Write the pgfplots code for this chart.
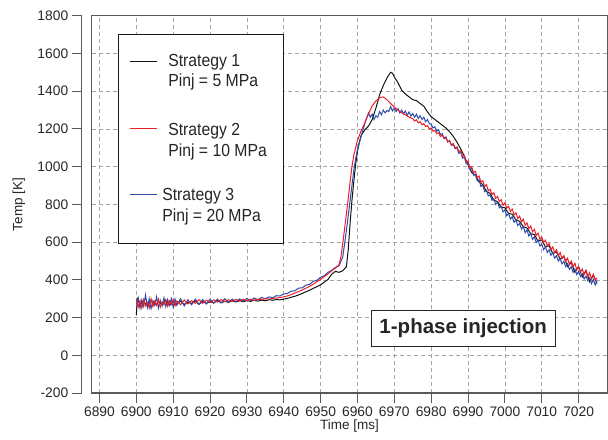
\documentclass[border=0pt]{standalone}
\usepackage{fontspec}
\setmainfont{Liberation Sans}
\newfontfamily\legfont[FakeStretch=0.9]{Liberation Sans}
\usepackage{pgfplots}
\pgfplotsset{compat=1.18}

\definecolor{sOne}{RGB}{20,20,20}
\definecolor{sTwo}{RGB}{235,30,40}
\definecolor{sThree}{RGB}{45,75,170}
\definecolor{framec}{RGB}{90,90,90}
\definecolor{gridc}{RGB}{165,165,165}

% legend sample line, lowered by #2 to sit beside the first text line
\pgfplotsset{legline/.style 2 args={legend image code/.code={\draw[#1, line width=1.1pt] (0pt,-#2) -- (27pt,-#2);}}}

\begin{document}
\begin{tikzpicture}
\begin{axis}[
  name=ax,
  scale only axis,
  width=515.5pt, height=377.3pt,
  xmin=6887.9, xmax=7027.8,
  ymin=-200, ymax=1800,
  xtick={6890,6900,...,7020},
  ytick={-200,0,...,1800},
  /pgf/number format/1000 sep={},
  /pgf/number format/assume math mode=true,
  tick label style={font=\fontsize{13.8}{16}\selectfont, text=black!85},
  xtick pos=bottom, ytick pos=left,
  tick align=outside,
  major tick length=10pt,
  tick style={framec, line width=0.9pt},
  ytick style={xshift=-10pt},
  yticklabel style={xshift=-10pt},
  axis line style={framec, line width=1.3pt},
  grid=major,
  grid style={gridc, dash pattern=on 4pt off 3pt, line width=0.7pt},
  every axis x label/.style={at={(rel axis cs:0.5,0)}, anchor=center, yshift=-32.5pt},
  every axis y label/.style={at={(rel axis cs:0,0.5)}, anchor=center, xshift=-72.7pt, rotate=90},
  label style={font=\fontsize{13.5}{16}\selectfont, text=black!85},
  xlabel={Time [ms]},
  ylabel={Temp [K]},
  legend cell align=left,
  legend style={at={(rel axis cs:0,1)}, anchor=north west, xshift=26.6pt, yshift=-18.3pt,
    draw=black!90, line width=0.8pt, fill=white,
    font=\legfont\fontsize{17.5}{21.7}\selectfont, text=black!85,
    inner xsep=10.5pt, inner ysep=18pt,
    /tikz/every odd column/.append style={column sep=9pt}},
]
\addplot[sOne, line width=1pt, forget plot] table {
6900 215
6900.3 300
6901 270
6902 285
6903 262
6904 290
6905 268
6906 282
6907 270
6908 292
6909 265
6910 284
6911 272
6912 288
6913 270
6914 283
6915 275
6916 289
6917 271
6918 285
6919 276
6920 284
6921 278
6922 290
6923 279
6924 287
6925 281
6926 289
6927 283
6928 290
6929 284
6930 290
6931 286
6932 292
6933 287
6934 293
6935 289
6936 295
6937 292
6938 296
6939 294
6940 298
6941 302
6942 308
6943 313
6944 320
6945 328
6946 337
6947 345
6948 355
6949 364
6950 374
6951 388
6952 402
6953 430
6954 445
6955 440
6956 448
6957 470
6957.5 560
6958 700
6958.5 820
6959 920
6959.5 1010
6960 1080
6960.5 1130
6961 1165
6962 1195
6963 1215
6964 1250
6965 1310
6966 1380
6967 1430
6968 1470
6969 1500
6969.5 1495
6970 1475
6971 1445
6972 1405
6973 1385
6974 1370
6975 1355
6976 1350
6977 1335
6978 1320
6979 1290
6980 1265
6981 1250
6982 1235
6983 1220
6984 1205
6985 1185
6986 1160
6987 1130
6988 1095
6989 1055
6990 1010
6991 968
6992 955
6993 918
6994 905
6995 868
6996 858
6997 822
6998 815
6999 785
7000 782
7001 752
7002 748
7003 718
7004 710
7005 682
7006 675
7007 645
7008 640
7009 605
7010 612
7011 575
7012 580
7013 540
7014 548
7015 510
7016 525
7017 470
7018 492
7019 440
7020 470
7021 415
7022 450
7023 390
7024 425
7025 380
};
\addplot[sThree, line width=1pt, forget plot] table {
6900 270
6900.5 305
6901 250
6901.5 295
6902 260
6902.5 320
6903 255
6903.5 300
6904 248
6904.5 290
6905 265
6905.5 310
6906 250
6906.5 292
6907 262
6907.5 305
6908 258
6908.5 296
6909 264
6909.5 300
6910 255
6910.5 298
6911 265
6912 300
6913 262
6914 295
6915 268
6916 298
6917 270
6918 296
6919 272
6920 297
6921 276
6922 298
6923 278
6924 300
6925 282
6926 298
6927 284
6928 299
6929 287
6930 302
6931 290
6932 304
6933 294
6934 307
6935 300
6936 310
6937 306
6938 316
6939 315
6940 325
6941 328
6942 340
6943 342
6944 356
6945 358
6946 372
6947 376
6948 392
6949 398
6950 414
6951 422
6952 440
6953 450
6954 466
6955 475
6956 520
6956.5 590
6957 660
6957.5 740
6958 820
6958.5 900
6959 980
6959.5 1040
6960 1090
6961 1160
6962 1230
6963 1285
6963.5 1262
6964 1278
6964.5 1250
6965 1270
6965.5 1262
6966 1292
6966.5 1275
6967 1300
6967.5 1285
6968 1298
6968.5 1292
6969 1318
6969.5 1296
6970 1310
6970.5 1292
6971 1308
6971.5 1285
6972 1300
6972.5 1280
6973 1295
6973.5 1272
6974 1290
6974.5 1268
6975 1282
6975.5 1262
6976 1278
6976.5 1255
6977 1270
6977.5 1250
6978 1262
6978.5 1238
6979 1250
6979.5 1228
6980 1225
6980.5 1205
6981 1212
6981.5 1188
6982 1196
6982.5 1170
6983 1175
6983.5 1150
6984 1158
6984.5 1130
6985 1138
6985.5 1112
6986 1118
6986.5 1095
6987 1100
6987.5 1070
6988 1078
6988.5 1045
6989 1050
6989.5 1015
6990 1022
6990.5 985
6991 990
6991.5 955
6992 958
6992.5 925
6993 930
6993.5 895
6994 902
6994.5 868
6995 875
6995.5 845
6996 850
6996.5 822
6997 830
6997.5 800
6998 812
6998.5 782
6999 790
6999.5 760
7000 770
7000.5 740
7001 752
7001.5 722
7002 735
7002.5 705
7003 718
7003.5 688
7004 700
7004.5 670
7005 682
7005.5 650
7006 665
7006.5 632
7007 648
7007.5 615
7008 628
7008.5 598
7009 610
7009.5 580
7010 590
7010.5 560
7011 575
7011.5 545
7012 560
7012.5 530
7013 545
7013.5 515
7014 528
7014.5 500
7015 512
7015.5 485
7016 498
7016.5 470
7017 485
7017.5 455
7018 470
7018.5 440
7019 458
7019.5 428
7020 445
7020.5 418
7021 432
7021.5 405
7022 420
7022.5 395
7023 412
7023.5 380
7024 402
7024.5 372
7025 395
};
\addplot[sTwo, line width=1pt, forget plot] table {
6900 300
6900.5 255
6901 290
6901.5 250
6902 295
6902.5 262
6903 280
6903.5 250
6904 300
6904.5 258
6905 288
6905.5 265
6906 298
6906.5 255
6907 284
6907.5 268
6908 295
6908.5 260
6909 290
6909.5 270
6910 296
6910.5 262
6911 288
6912 268
6913 294
6914 272
6915 290
6916 275
6917 295
6918 276
6919 292
6920 280
6921 294
6922 282
6923 296
6924 284
6925 295
6926 286
6927 296
6928 288
6929 297
6930 290
6931 298
6932 292
6933 298
6934 295
6935 300
6936 298
6937 302
6938 304
6939 306
6940 310
6941 315
6942 322
6943 330
6944 338
6945 346
6946 356
6947 366
6948 377
6949 390
6950 403
6951 418
6952 432
6953 448
6954 462
6955 480
6955.5 520
6956 590
6956.5 670
6957 750
6957.5 830
6958 920
6958.5 1000
6959 1060
6959.5 1100
6960 1140
6961 1190
6962 1232
6963 1280
6964 1322
6965 1348
6966 1365
6967 1370
6968 1355
6969 1335
6970 1315
6971 1300
6972 1285
6973 1275
6974 1262
6975 1255
6975.5 1242
6976 1248
6976.5 1232
6977 1238
6977.5 1222
6978 1228
6978.5 1212
6979 1218
6979.5 1200
6980 1205
6980.5 1188
6981 1192
6981.5 1175
6982 1180
6982.5 1160
6983 1168
6983.5 1148
6984 1152
6984.5 1132
6985 1138
6985.5 1115
6986 1122
6986.5 1100
6987 1105
6987.5 1080
6988 1085
6988.5 1055
6989 1060
6989.5 1025
6990 1030
6990.5 995
6991 1000
6991.5 968
6992 975
6992.5 942
6993 950
6993.5 918
6994 925
6994.5 895
6995 905
6995.5 872
6996 880
6996.5 852
6997 862
6997.5 832
6998 842
6998.5 815
6999 825
6999.5 795
7000 808
7000.5 780
7001 790
7001.5 762
7002 775
7002.5 745
7003 755
7003.5 725
7004 738
7004.5 708
7005 722
7005.5 690
7006 702
7006.5 672
7007 685
7007.5 655
7008 668
7008.5 635
7009 648
7009.5 615
7010 628
7010.5 598
7011 610
7011.5 580
7012 592
7012.5 562
7013 575
7013.5 545
7014 560
7014.5 528
7015 545
7015.5 512
7016 528
7016.5 498
7017 515
7017.5 482
7018 500
7018.5 470
7019 488
7019.5 455
7020 470
7020.5 440
7021 458
7021.5 428
7022 448
7022.5 415
7023 438
7023.5 405
7024 430
7024.5 398
7025 412
};
\addlegendimage{legline={sOne}{0.4pt}}
\addlegendentry{Strategy 1}
\addlegendimage{empty legend}
\addlegendentry{\rule{0pt}{14.7pt}Pinj = 5 MPa}
\addlegendimage{legline={sTwo}{13.5pt}}
\addlegendentry{\rule{0pt}{43pt}Strategy 2}
\addlegendimage{empty legend}
\addlegendentry{\rule{0pt}{15.5pt}Pinj = 10 MPa\hspace*{4pt}}
\addlegendimage{legline={sThree}{12pt}}
\addlegendentry{\hspace*{-6pt}\rule{0pt}{39pt}Strategy 3}
\addlegendimage{empty legend}
\addlegendentry{\hspace*{-6pt}\rule{0pt}{15.5pt}Pinj = 20 MPa}
\node[draw=black!85, line width=0.8pt, fill=white, minimum width=184pt, minimum height=36pt,
  inner sep=0pt, font=\fontsize{20.5}{24}\selectfont\bfseries, text=black!85]
  at (axis cs:6988.7,145) {1-phase injection};
\end{axis}
\draw[framec, line width=1.3pt] ([xshift=-10pt]ax.south west) -- ([xshift=-10pt]ax.north west);
\path ([xshift=-91.7pt,yshift=-45.9pt]ax.south west) ([xshift=0.5pt,yshift=15.7pt]ax.north east);
\end{tikzpicture}
\end{document}
